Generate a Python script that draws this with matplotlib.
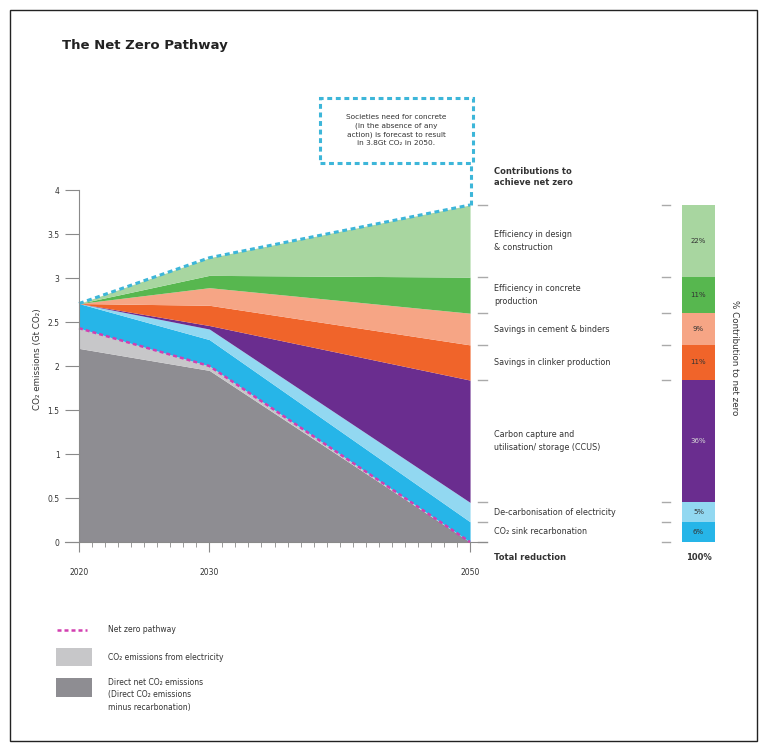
import numpy as np
import matplotlib
matplotlib.use("Agg")
import matplotlib.pyplot as plt
from matplotlib.patches import Rectangle
from matplotlib.lines import Line2D

#data#
years = [2020, 2030, 2050]
direct = [2.20, 1.95, 0.0]
electricity = [0.23, 0.05, 0.0]
recarb = [0.28, 0.30, 0.23]
decarb_elec = [0.0, 0.12, 0.22]
ccus = [0.0, 0.04, 1.39]
clinker = [0.0, 0.23, 0.40]
cement = [0.0, 0.20, 0.36]
eff_concrete = [0.0, 0.14, 0.41]
eff_design = [0.0, 0.20, 0.82]

layer_names = ["CO₂ sink recarbonation", "De-carbonisation of electricity",
               "Carbon capture and\nutilisation/ storage (CCUS)", "Savings in clinker production",
               "Savings in cement & binders", "Efficiency in concrete\nproduction",
               "Efficiency in design\n& construction"]
pct_labels = ["6%", "5%", "36%", "11%", "9%", "11%", "22%"]
ytick_vals = [0, 0.5, 1, 1.5, 2, 2.5, 3, 3.5, 4]
ytick_labels = ["0", "0.5", "1", "1.5", "2", "2.5", "3", "3.5", "4"]

#colours#
c_dark = "#8e8d92"
c_lgray = "#c7c7c9"
layer_colors = ["#26b5e8", "#92d8f1", "#6a2d8f", "#f0642a", "#f6a585", "#57b74f", "#a8d6a0"]
c_bau = "#3db6d9"
c_nz = "#d23fb0"
c_text = "#333333"
c_tick = "#8a8a8a"

fig = plt.figure(figsize=(7.68, 7.51), dpi=100)
W, H = 768, 751

def fx(px):
    return px / W

def fy(py):
    return 1 - py / H

ax = fig.add_axes([fx(65), fy(542), fx(487) - fx(65), fy(190) - fy(542)])
ax.set_xlim(2018.926, 2051.30)
ax.set_ylim(0, 4)

layers = [direct, electricity, recarb, decarb_elec, ccus, clinker, cement, eff_concrete, eff_design]
colors = [c_dark, c_lgray] + layer_colors
base = np.zeros(3)
for vals, col in zip(layers, colors):
    top = base + np.array(vals)
    ax.fill_between(years, base, top, color=col, lw=0, zorder=2)
    base = top

bau = base
netzero = np.array(direct) + np.array(electricity)
ax.plot(years, bau, color=c_bau, lw=2.2, ls=(0, (1.6, 1.2)), zorder=4, clip_on=False)
ax.plot(years, netzero, color=c_nz, lw=1.8, ls=(0, (1.6, 1.2)), zorder=4, clip_on=False)

#annotation box#
ax.add_patch(Rectangle((2038.5, 4.31), 11.7, 0.74, fill=False, ec=c_bau, lw=2.2,
                       ls=(0, (1.6, 1.2)), clip_on=False, zorder=5))
ax.plot([2050.05, 2050.05], [bau[-1], 4.31], color=c_bau, lw=2.2, ls=(0, (1.6, 1.2)),
        clip_on=False, zorder=5)
ax.text(2044.35, 4.68, "Societies need for concrete\n(in the absence of any\naction) is forecast to result\nin 3.8Gt CO₂ in 2050.",
        ha="center", va="center", fontsize=5.3, color=c_text, linespacing=1.45)

#axes styling#
for s in ["top", "right"]:
    ax.spines[s].set_visible(False)
ax.spines["left"].set_position(("data", 2020))
ax.spines["left"].set_color(c_tick)
ax.spines["bottom"].set_color(c_tick)
ax.spines["left"].set_zorder(6)
ax.set_yticks(ytick_vals)
ax.set_yticklabels(ytick_labels)
ax.set_xticks(years)
ax.set_xticks(range(2021, 2050), minor=True)
ax.tick_params(axis="y", length=10, color=c_tick, labelsize=5.5, labelcolor=c_text, pad=4)
ax.tick_params(axis="x", which="major", length=7, color=c_tick, labelsize=5.5, labelcolor=c_text, pad=12)
ax.tick_params(axis="x", which="minor", length=3.5, color=c_tick)
ax.set_ylabel("CO₂ emissions (Gt CO₂)", fontsize=6.3, color=c_text)
ax.yaxis.set_label_coords(-0.055, 0.52)

#right side labels#
cum = np.cumsum([0] + [v[-1] for v in layers[2:]])
for yb in cum:
    ax.plot([2050.6, 2051.3], [yb, yb], color="#aaaaaa", lw=1, clip_on=False)
for i, name in enumerate(layer_names):
    mid = (cum[i] + cum[i + 1]) / 2
    ax.text(2051.85, mid, name, fontsize=5.8, color=c_text, va="center", ha="left", linespacing=1.5)
ax.text(2051.85, 4.15, "Contributions to\nachieve net zero", fontsize=6, fontweight="bold",
        color=c_text, va="center", ha="left", linespacing=1.3)
ax.text(2051.85, -0.18, "Total reduction", fontsize=6, fontweight="bold", color=c_text,
        va="center", ha="left")

#percentage bar#
ax2 = fig.add_axes([fx(660), fy(542), fx(60), fy(190) - fy(542)])
ax2.set_xlim(0, 60)
ax2.set_ylim(0, 4)
ax2.axis("off")
for i in range(len(pct_labels)):
    ax2.bar(38.5, cum[i + 1] - cum[i], bottom=cum[i], width=33, color=layer_colors[i], lw=0)
    tc = "#d8d8d8" if i == 2 else c_text
    ax2.text(38.5, (cum[i] + cum[i + 1]) / 2, pct_labels[i], fontsize=5, color=tc,
             ha="center", va="center")
for yb in cum:
    ax2.plot([2, 10], [yb, yb], color="#aaaaaa", lw=1, clip_on=False)
ax2.text(38.5, -0.18, "100%", fontsize=6, fontweight="bold", color=c_text, ha="center", va="center")
ax2.text(fx(735) * 0 + 75, 2.1, "% Contribution to net zero", rotation=-90, fontsize=6.3,
         color=c_text, ha="center", va="center", clip_on=False)

#title#
fig.text(fx(62), fy(45), "The Net Zero Pathway", fontsize=9.5, fontweight="bold", color="#222222",
         ha="left", va="center")

#legend#
fig.add_artist(Line2D([fx(57), fx(87)], [fy(630), fy(630)], color=c_nz, lw=1.8, ls=(0, (1.6, 1.2))))
fig.text(fx(108), fy(630), "Net zero pathway", fontsize=5.5, color=c_text, va="center")
fig.add_artist(Rectangle((fx(56), fy(666)), fx(36), fy(648) - fy(666), color=c_lgray, lw=0,
                         transform=fig.transFigure))
fig.text(fx(108), fy(657), "CO₂ emissions from electricity", fontsize=5.5, color=c_text, va="center")
fig.add_artist(Rectangle((fx(56), fy(697)), fx(36), fy(678) - fy(697), color=c_dark, lw=0,
                         transform=fig.transFigure))
fig.text(fx(108), fy(678), "Direct net CO₂ emissions\n(Direct CO₂ emissions\nminus recarbonation)",
         fontsize=5.5, color=c_text, va="top", linespacing=1.5)

#border#
fig.add_artist(Rectangle((fx(10), fy(741)), fx(747), fy(10) - fy(741), fill=False, ec="#222222",
                         lw=1, transform=fig.transFigure))

plt.savefig("out.png", dpi=100)
